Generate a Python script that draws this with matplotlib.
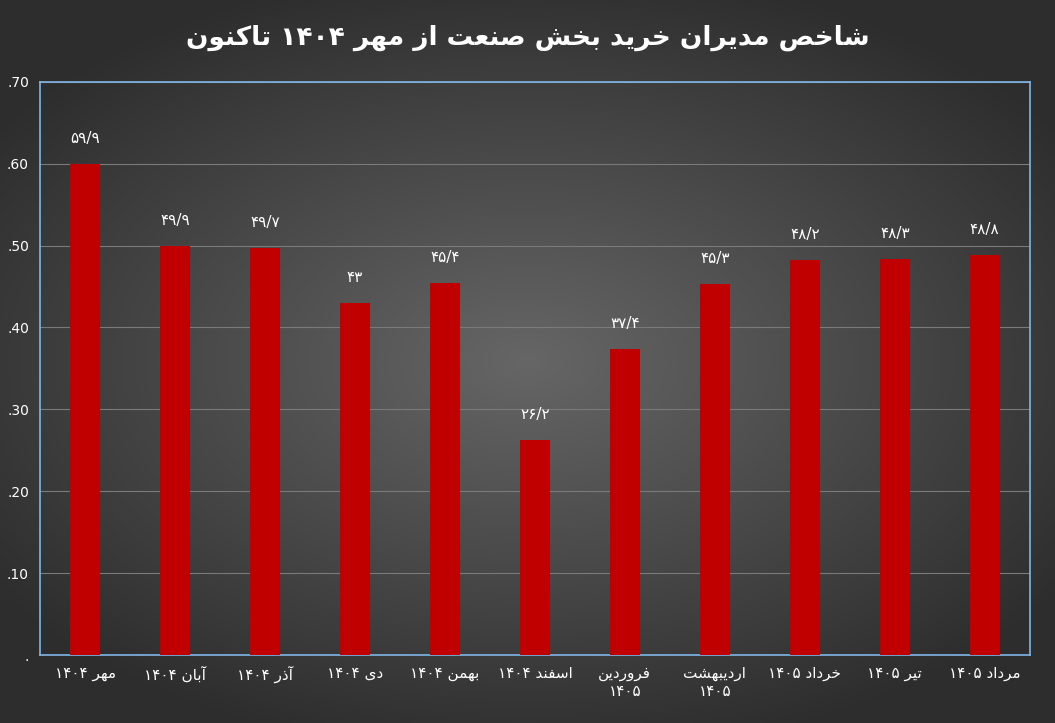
import unicodedata
import numpy as np
import matplotlib
matplotlib.use("Agg")
import matplotlib.pyplot as plt

title = "شاخص مدیران خرید بخش صنعت از مهر ۱۴۰۴ تاکنون"
categories = ["مهر ۱۴۰۴", "آبان ۱۴۰۴", "آذر ۱۴۰۴", "دی ۱۴۰۴", "بهمن ۱۴۰۴", "اسفند ۱۴۰۴",
              "فروردین\n۱۴۰۵", "اردیبهشت\n۱۴۰۵", "خرداد ۱۴۰۵", "تیر ۱۴۰۵", "مرداد ۱۴۰۵"]
values = [59.9, 49.9, 49.7, 43, 45.4, 26.2, 37.4, 45.3, 48.2, 48.3, 48.8]
ytick_vals = [0, 10, 20, 30, 40, 50, 60, 70]
ytick_labels = [".", ".10", ".20", ".30", ".40", ".50", ".60", ".70"]

def form(ch, kind):
    try:
        return unicodedata.lookup(unicodedata.name(ch) + " " + kind + " FORM")
    except (KeyError, ValueError):
        return None

def is_ar(ch):
    try:
        return unicodedata.name(ch).startswith("ARABIC LETTER")
    except ValueError:
        return False

def shape_word(w):
    out = []
    for i, ch in enumerate(w):
        if not is_ar(ch):
            out.append(ch); continue
        p = w[i-1] if i > 0 else ""
        n = w[i+1] if i + 1 < len(w) else ""
        jp = bool(p) and is_ar(p) and form(p, "INITIAL") is not None and form(ch, "FINAL") is not None
        jn = bool(n) and is_ar(n) and form(ch, "INITIAL") is not None and form(n, "FINAL") is not None
        if jp and jn:
            f = form(ch, "MEDIAL")
        elif jp:
            f = form(ch, "FINAL")
        elif jn:
            f = form(ch, "INITIAL")
        else:
            f = form(ch, "ISOLATED")
        out.append(f or ch)
    return "".join(out)[::-1]

def rtl(s):
    lines = []
    for line in s.split("\n"):
        words = line.split(" ")
        sw = [w if all(not is_ar(c) for c in w) else shape_word(w) for w in words]
        lines.append(" ".join(sw[::-1]))
    return "\n".join(lines)

pd_digits = str.maketrans("0123456789", "۰۱۲۳۴۵۶۷۸۹")
def fa_num(v):
    s = ("%g" % v).replace(".", "/")
    return s.translate(pd_digits)

plt.rcParams['font.family'] = ['DejaVu Sans']
fig = plt.figure(figsize=(10.55, 7.23), dpi=100)
bg = fig.add_axes([0, 0, 1, 1], zorder=-10)
yy, xx = np.mgrid[-1:1:300j, -1:1:400j]
r = np.sqrt(xx**2 * 0.8 + yy**2)
g = np.clip(0.40 - 0.20 * r, 0.18, 0.42)
bg.imshow(np.dstack([g, g, g]), aspect="auto", extent=[0, 1, 0, 1])
bg.axis("off")

ax = fig.add_axes([0.038, 0.094, 0.938, 0.793])
ax.patch.set_alpha(0)
x = np.arange(len(values))
ax.bar(x, values, width=0.33, color="#C00000", zorder=3)
for xi, v in zip(x, values):
    ax.text(xi, v + 2.2, fa_num(v), ha="center", va="bottom", color="white", fontsize=11)
ax.set_xlim(-0.5, len(values) - 0.5)
ax.set_ylim(0, 70)
ax.set_yticks(ytick_vals)
ax.set_yticklabels(ytick_labels, color="white", fontsize=10)
ax.set_xticks(x)
ax.set_xticklabels([rtl(c) for c in categories], color="white", fontsize=11, va="top")
ax.tick_params(length=0, pad=8)
ax.yaxis.grid(True, color="#7a7a7a", lw=0.8, zorder=0)
for s in ax.spines.values():
    s.set_color("#7fb6e6"); s.set_linewidth(1.2)
fig.text(0.5, 0.948, rtl(title), ha="center", va="center", color="white", fontsize=19, fontweight="bold")
fig.savefig("out.png", dpi=100)
